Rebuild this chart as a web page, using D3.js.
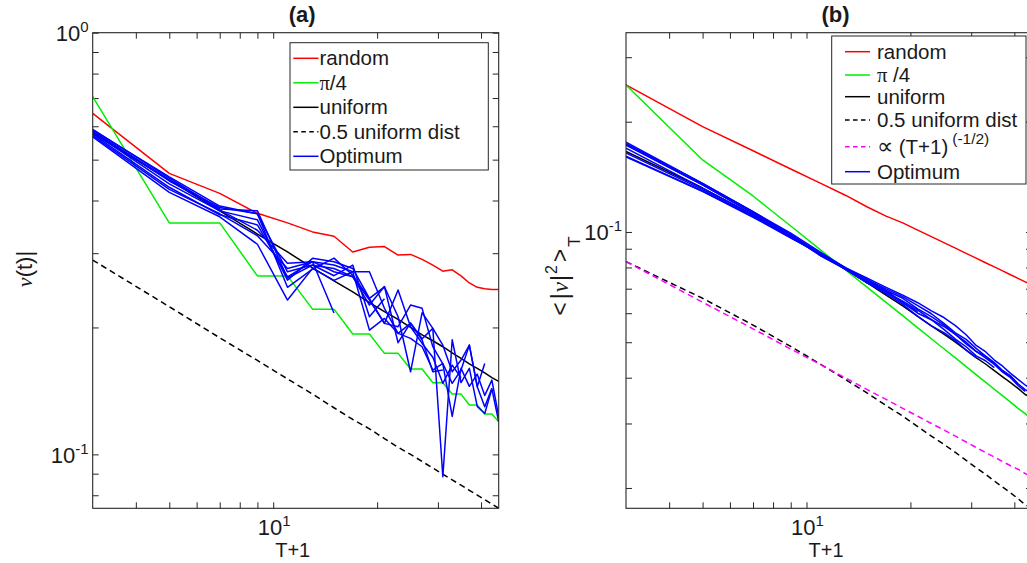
<!DOCTYPE html>
<html>
<head>
<meta charset="utf-8">
<script src="https://cdn.jsdelivr.net/npm/d3@7"></script>
<style>
  html, body { margin: 0; padding: 0; background: #fff; }
  svg { display: block; }
  text { font-family: "Liberation Sans", Arial, Helvetica, sans-serif; fill: #1a1a1a; }
</style>
</head>
<body>
<svg id="chart" width="1027" height="563"></svg>
<script>
// ---- shared abscissa: T+1 ----
const tPlusOne = [3,5,7,9,11,13,15,17,19,21,23,25,27,29,31,33,35,37,39,41,43,45];
const xTickValues = [4,5,6,7,8,9,10,20,30,40];
const xTickLabels = [{ v: 10, base: "10", exp: "1" }];

// ---- panel (a): |nu(t)| ----
const randomA     = [0.644,0.464,0.416,0.373,0.354,0.337,0.329,0.302,0.310,0.311,0.297,0.298,0.290,0.281,0.272,0.274,0.265,0.255,0.249,0.247,0.246,0.246];
const quarterPiA  = [0.705,0.354,0.354,0.265,0.265,0.221,0.221,0.193,0.193,0.1736,0.1736,0.1594,0.1594,0.1479,0.1479,0.139,0.139,0.1309,0.1309,0.1246,0.1246,0.1195];
const uniformA    = [0.577,0.447,0.378,0.333,0.302,0.277,0.258,0.243,0.229,0.218,0.209,0.200,0.192,0.186,0.180,0.174,0.169,0.164,0.160,0.156,0.152,0.149];
const halfUniformA= [0.289,0.224,0.189,0.167,0.151,0.139,0.129,0.121,0.115,0.109,0.104,0.100,0.0962,0.0928,0.0898,0.0870,0.0845,0.0822,0.0801,0.0781,0.0762,0.0745];
const optimumA = [
  [0.590,0.452,0.382,0.378,0.262,0.281,0.276,0.264,0.226,0.250,0.184,0.205,0.188,0.199,0.0885,0.187,0.148,0.160,0.130,0.125,0.143,0.1195],
  [0.585,0.445,0.385,0.372,0.249,0.275,0.292,0.266,0.234,0.2045,0.2008,0.226,0.222,0.180,0.164,0.123,0.160,0.145,0.155,0.138,0.150,0.123],
  [0.580,0.438,0.378,0.360,0.259,0.2917,0.2864,0.276,0.2344,0.2497,0.212,0.157,0.2168,0.199,0.1815,0.157,0.1674,0.1816,0.1447,0.1297,0.1434],
  [0.575,0.430,0.370,0.350,0.2637,0.2864,0.2812,0.2711,0.1971,0.2101,0.1936,0.1884,0.180,0.1585,0.1643,0.1474,0.1585,0.1816,0.1447,0.1643],
  [0.570,0.425,0.372,0.330,0.276,0.2864,0.2711,0.2637,0.2323,0.2045,0.2453,0.2008,0.1833,0.170,0.1474,0.1628,0.152],
  [0.566,0.418,0.366,0.315,0.2323,0.2761,0.2586,0.2711,0.2711,0.222,0.1936,0.2045,0.1867,0.157,0.1585],
  [0.588,0.455,0.388,0.372,0.271,0.2812,0.2653,0.2812,0.212,0.234],
  [0.583,0.448,0.380,0.340,0.284,0.2864,0.2164]
];
const yTickValuesA = [0.08,0.09,0.1,0.2,0.3,0.4,0.5,0.6,0.7,0.8,0.9,1];
const yTickLabelsA = [{ v: 1, base: "10", exp: "0" }, { v: 0.1, base: "10", exp: "-1" }];

// ---- panel (b): <|nu|^2>_T ----
const randomB     = [0.252,0.194,0.1666,0.1486,0.1357,0.1258,0.117,0.1105,0.1059,0.1012,0.0971,0.0935,0.0903,0.0874,0.0848,0.0824,0.0803,0.0783,0.0764,0.0747,0.0731,0.0716];
const quarterPiB  = [0.252,0.1573,0.1254,0.1038,0.0892,0.0786,0.0706,0.0642,0.0591,0.0547,0.0511,0.0480,0.0453,0.0429,0.0408,0.0389,0.0372,0.0357,0.0343,0.0330,0.0319,0.0308];
const uniformB    = [0.166,0.1318,0.1114,0.0974,0.087,0.079,0.0726,0.0672,0.0628,0.0588,0.0554,0.0526,0.050,0.0476,0.0454,0.0436,0.0418,0.0402,0.0388,0.0374,0.036,0.0352];
const halfUniformB= [0.083,0.0659,0.0557,0.0487,0.0435,0.0395,0.0363,0.0336,0.0314,0.0294,0.0277,0.0263,0.025,0.0238,0.0227,0.0218,0.0209,0.0201,0.0194,0.0187,0.018,0.0176];
const sqrtRefB    = [0.083,0.0643,0.0544,0.0479,0.0434,0.0399,0.0371,0.0349,0.0330,0.0314,0.0300,0.0288,0.0277,0.0267,0.0258,0.0250,0.0243,0.0236,0.0230,0.0225,0.0219,0.0214];
const optimumB = [
  [0.176,0.1358,0.1136,0.0993,0.0879,0.0798,0.0748,0.0706,0.0672,0.0641,0.0609,0.0584,0.0555,0.0524,0.0490,0.0471,0.0447,0.0430,0.0411,0.0396,0.0382,0.0373],
  [0.1726,0.1344,0.1125,0.0984,0.087,0.079,0.0741,0.0699,0.0666,0.0629,0.0598,0.0563,0.053,0.0509,0.0481,0.0458,0.0439,0.0418,0.0404,0.0385,0.0371,0.0363],
  [0.1693,0.1318,0.1114,0.0974,0.0861,0.079,0.0733,0.0692,0.0659,0.0617,0.0587,0.0558,0.0525,0.050,0.0472,0.0453,0.0435,0.0414,0.040,0.0381,0.0367],
  [0.1643,0.1305,0.1103,0.0964,0.087,0.079,0.0726,0.0685,0.0647,0.0612,0.0576,0.0552,0.0525,0.0495,0.0472,0.0458,0.0439,0.0418,0.0404,0.0385],
  [0.161,0.1292,0.1103,0.0974,0.087,0.0798,0.0741,0.0692,0.0641,0.060,0.0576,0.0542,0.051,0.0486,0.0459,0.0445,0.0426],
  [0.1602,0.1292,0.1097,0.0964,0.087,0.079,0.0726,0.0679,0.0634,0.0588,0.0554,0.0531,0.0505,0.0476,0.0454],
  [0.1743,0.1358,0.1136,0.0984,0.087,0.079,0.0733,0.0685,0.0641,0.0606],
  [0.1735,0.1344,0.1125,0.0974,0.0861,0.079,0.0726]
];
const yTickValuesB = [0.02,0.03,0.04,0.05,0.06,0.07,0.08,0.09,0.1,0.2,0.3];
const yTickLabelsB = [{ v: 0.1, base: "10", exp: "-1" }];

// ---- styling ----
const AXIS = "#262626";
const COLORS = { random: "#ff0000", quarterPi: "#00ee00", uniform: "#000000", sqrtRef: "#ff00ff", optimum: "#0000ff" };
const DASH = "6,4";
const LW = 1.5;
const TICK = 6;
const SERIF = "'Liberation Serif', 'Times New Roman', serif";

const svg = d3.select("#chart");

function drawPanel(p) {
  const [x0, x1] = p.x.range();
  const [y0, y1] = p.y.range(); // y0 bottom, y1 top
  const g = svg.append("g");

  svg.append("clipPath").attr("id", p.id + "-clip")
    .append("rect").attr("x", x0).attr("y", y1).attr("width", x1 - x0).attr("height", y0 - y1);

  // inward ticks on all four sides
  const axes = [
    [d3.axisBottom(p.x).tickValues(xTickValues), `translate(0,${y0})`],
    [d3.axisTop(p.x).tickValues(xTickValues), `translate(0,${y1})`],
    [d3.axisLeft(p.y).tickValues(p.yTicks), `translate(${x0},0)`],
    [d3.axisRight(p.y).tickValues(p.yTicks), `translate(${x1},0)`]
  ];
  axes.forEach(([ax, tr]) => {
    const a = g.append("g").attr("transform", tr)
      .call(ax.tickSizeInner(-TICK).tickSizeOuter(0).tickFormat(""));
    a.select(".domain").remove();
    a.selectAll(".tick line").attr("stroke", AXIS).attr("stroke-width", 1);
  });

  // series
  const line = d3.line().x(d => p.x(d[0])).y(d => p.y(d[1]));
  const plot = g.append("g").attr("clip-path", `url(#${p.id}-clip)`);
  p.series.forEach(s => {
    const pts = s.values.map((v, i) => [tPlusOne[i], v]);
    plot.append("path").datum(pts)
      .attr("d", line).attr("fill", "none")
      .attr("stroke", s.color).attr("stroke-width", LW)
      .attr("stroke-linejoin", "round")
      .attr("stroke-dasharray", s.dash ? DASH : null);
  });

  // frame
  g.append("rect").attr("x", x0).attr("y", y1).attr("width", x1 - x0).attr("height", y0 - y1)
    .attr("fill", "none").attr("stroke", AXIS).attr("stroke-width", 1.1);

  // tick labels with exponents
  xTickLabels.forEach(t => {
    const tx = g.append("text").attr("x", p.x(t.v) + 1).attr("y", y0 + 27)
      .attr("text-anchor", "middle").style("font-size", "22px");
    tx.append("tspan").text(t.base);
    tx.append("tspan").attr("dy", -9).style("font-size", "15px").text(t.exp);
  });
  p.yLabels.forEach(t => {
    const tx = g.append("text").attr("x", x0 - 4).attr("y", p.y(t.v) + 8.5)
      .attr("text-anchor", "end").style("font-size", "22px");
    tx.append("tspan").text(t.base);
    tx.append("tspan").attr("dy", -9).style("font-size", "15px").text(t.exp);
  });

  // x label
  g.append("text").attr("x", (x0 + x1) / 2 - 3).attr("y", 556.5)
    .attr("text-anchor", "middle").style("font-size", "20px").text("T+1");

  // title
  g.append("text").attr("x", (x0 + x1) / 2 + 6.5).attr("y", 22)
    .attr("text-anchor", "middle").style("font-size", "22px").style("font-weight", "bold").text(p.title);

  // legend
  const L = p.legend;
  g.append("rect").attr("x", L.x).attr("y", L.y).attr("width", L.w).attr("height", L.h)
    .attr("fill", "#fff").attr("stroke", AXIS).attr("stroke-width", 1);
  L.items.forEach((it, i) => {
    const ry = L.rows[i];
    g.append("line").attr("x1", L.lx0).attr("x2", L.lx1).attr("y1", ry).attr("y2", ry)
      .attr("stroke", it.color).attr("stroke-width", LW)
      .attr("stroke-dasharray", it.dash ? "4.5,3.5" : null);
    const tx = g.append("text").attr("x", L.tx).attr("y", ry + 7).style("font-size", "20.5px");
    it.parts.forEach(part => {
      const ts = tx.append("tspan").text(part.t);
      if (part.serif) ts.style("font-family", SERIF);
      if (part.size) ts.style("font-size", part.size);
      if (part.dx) ts.attr("dx", part.dx);
      if (part.sup) ts.attr("dy", -10).style("font-size", "15.5px");
    });
  });
}

const xA = d3.scaleLog().domain([3, 45]).range([92.7, 498.7]);
const yA = d3.scaleLog().domain([0.0745, 1]).range([508.3, 32.7]);
const xB = d3.scaleLog().domain([3, 45]).range([626, 1032]);
const yB = d3.scaleLog().domain([0.0176, 0.35]).range([508.3, 32.7]);

drawPanel({
  id: "pa", x: xA, y: yA, yTicks: yTickValuesA, yLabels: yTickLabelsA, title: "(a)",
  series: [
    { values: randomA, color: COLORS.random },
    { values: quarterPiA, color: COLORS.quarterPi },
    { values: uniformA, color: COLORS.uniform },
    { values: halfUniformA, color: COLORS.uniform, dash: true },
    ...optimumA.map(v => ({ values: v, color: COLORS.optimum }))
  ],
  legend: {
    x: 290, y: 42.7, w: 198.3, h: 127.3, lx0: 293.3, lx1: 318.5, tx: 319.5,
    rows: [58.3, 82.8, 107.3, 131.8, 156.3],
    items: [
      { color: COLORS.random, parts: [{ t: "random" }] },
      { color: COLORS.quarterPi, parts: [{ t: "π", serif: true }, { t: "/4" }] },
      { color: COLORS.uniform, parts: [{ t: "uniform" }] },
      { color: COLORS.uniform, dash: true, parts: [{ t: "0.5 uniform dist" }] },
      { color: COLORS.optimum, parts: [{ t: "Optimum" }] }
    ]
  }
});

drawPanel({
  id: "pb", x: xB, y: yB, yTicks: yTickValuesB, yLabels: yTickLabelsB, title: "(b)",
  series: [
    { values: randomB, color: COLORS.random },
    { values: quarterPiB, color: COLORS.quarterPi },
    { values: uniformB, color: COLORS.uniform },
    { values: halfUniformB, color: COLORS.uniform, dash: true },
    { values: sqrtRefB, color: COLORS.sqrtRef, dash: true },
    ...optimumB.map(v => ({ values: v, color: COLORS.optimum }))
  ],
  legend: {
    x: 831.7, y: 36, w: 194.3, h: 148, lx0: 845, lx1: 870, tx: 877,
    rows: [51.7, 75, 96.7, 120, 146.7, 171.7],
    items: [
      { color: COLORS.random, parts: [{ t: "random" }] },
      { color: COLORS.quarterPi, parts: [{ t: "π", serif: true }, { t: " /4" }] },
      { color: COLORS.uniform, parts: [{ t: "uniform" }] },
      { color: COLORS.uniform, dash: true, parts: [{ t: "0.5 uniform dist" }] },
      { color: COLORS.sqrtRef, dash: true, parts: [{ t: "∝", serif: true, size: "23px" }, { t: " (T+1)" }, { t: "(-1/2)", sup: true, dx: 4 }] },
      { color: COLORS.optimum, parts: [{ t: "Optimum" }] }
    ]
  }
});

// y-axis labels
const yLabA = svg.append("text").attr("transform", "translate(32,269) rotate(-90)")
  .attr("text-anchor", "middle").style("font-size", "22px");
yLabA.append("tspan").style("font-family", SERIF).style("font-style", "italic").text("ν");
yLabA.append("tspan").text("(t)|");

const yLabB = svg.append("text").attr("transform", "translate(568,276) rotate(-90)")
  .attr("text-anchor", "middle").style("font-size", "23px");
yLabB.append("tspan").text("<");
yLabB.append("tspan").attr("dx", 3).text("|");
yLabB.append("tspan").attr("dx", 1).style("font-family", SERIF).style("font-style", "italic").text("ν");
yLabB.append("tspan").attr("dx", 1).text("|");
yLabB.append("tspan").attr("dy", -11).attr("dx", 1).style("font-size", "16px").text("2");
yLabB.append("tspan").attr("dy", 11).attr("dx", 3).text(">");
yLabB.append("tspan").attr("dy", 12).attr("dx", 2).style("font-size", "17px").text("T");
</script>
</body>
</html>
